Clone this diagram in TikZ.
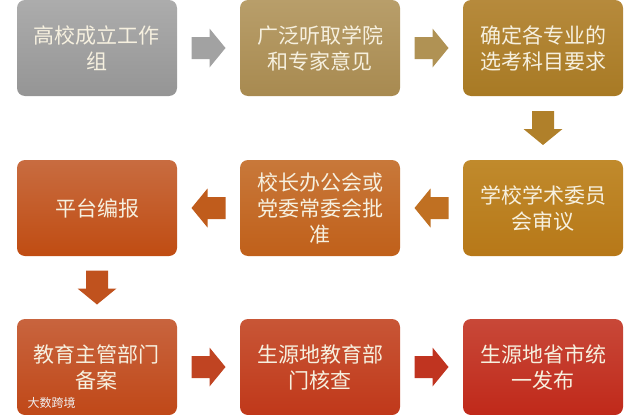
\documentclass[tikz,border=0pt]{standalone}
\usepackage{fontspec}
\newfontfamily\cjk{Noto Sans CJK SC}
\usetikzlibrary{calc}
\definecolor{txt}{HTML}{F6F0DF}
\definecolor{a1t}{HTML}{ACACAC}\definecolor{a1b}{HTML}{959595}
\definecolor{a2t}{HTML}{B89E6A}\definecolor{a2b}{HTML}{A88A50}
\definecolor{a3t}{HTML}{B68A3C}\definecolor{a3b}{HTML}{A87A24}
\definecolor{b3t}{HTML}{C08A2C}\definecolor{b3b}{HTML}{B77818}
\definecolor{b2t}{HTML}{C8783A}\definecolor{b2b}{HTML}{C0601A}
\definecolor{b1t}{HTML}{C86C40}\definecolor{b1b}{HTML}{C04C12}
\definecolor{c1t}{HTML}{C8643E}\definecolor{c1b}{HTML}{C04818}
\definecolor{c2t}{HTML}{C85636}\definecolor{c2b}{HTML}{C0381A}
\definecolor{c3t}{HTML}{C84838}\definecolor{c3b}{HTML}{C0291A}
\definecolor{ar1}{HTML}{A2A2A2}\definecolor{ar2}{HTML}{B09254}
\definecolor{ar3}{HTML}{B0802A}\definecolor{ar4}{HTML}{C07022}
\definecolor{ar5}{HTML}{C05C1C}\definecolor{ar6}{HTML}{C0521E}
\definecolor{ar7}{HTML}{C04422}\definecolor{ar8}{HTML}{C03420}
\tikzset{
  box/.style 2 args={draw=none, rounded corners=8pt, minimum width=160pt, minimum height=96pt,
    inner sep=0pt, text width=150pt, align=center, text=txt,
    font=\cjk\fontsize{21pt}{26pt}\selectfont, top color=#1, bottom color=#2},
}
\newcommand\blockarr[3]{%
  \fill[#3, shift={(#1)}, rotate=#2] (-17,-11) -- (1,-11) -- (1,-19.5) -- (17,0)
    -- (1,19.5) -- (1,11) -- (-17,11) -- cycle;}
\begin{document}
\begin{tikzpicture}[x=1pt,y=-1pt]
\useasboundingbox (0,0) rectangle (640,415);
% row 1
\node[box={a1t}{a1b}] (a1) at (97,48) {高校成立工作\\组};
\node[box={a2t}{a2b}] (a2) at (320,48) {广泛听取学院\\和专家意见};
\node[box={a3t}{a3b}] (a3) at (543,48) {确定各专业的\\选考科目要求};
% row 2
\node[box={b3t}{b3b}] (b3) at (543,208) {学校学术委员\\会审议};
\node[box={b2t}{b2b}] (b2) at (320,208) {校长办公会或\\党委常委会批\\准};
\node[box={b1t}{b1b}] (b1) at (97,208) {平台编报};
% row 3
\node[box={c1t}{c1b}] (c1) at (97,367) {教育主管部门\\备案};
\node[box={c2t}{c2b}] (c2) at (320,367) {生源地教育部\\门核查};
\node[box={c3t}{c3b}] (c3) at (543,367) {生源地省市统\\一发布};
% arrows
\coordinate (r1) at ($(a1.east)!0.5!(a2.west)$);
\coordinate (r2) at ($(a2.east)!0.5!(a3.west)$);
\coordinate (d1) at ($(a3.south)!0.5!(b3.north)$);
\coordinate (l1) at ($(b3.west)!0.5!(b2.east)$);
\coordinate (l2) at ($(b2.west)!0.5!(b1.east)$);
\coordinate (d2) at ($(b1.south)!0.5!(c1.north)$);
\coordinate (r3) at ($(c1.east)!0.5!(c2.west)$);
\coordinate (r4) at ($(c2.east)!0.5!(c3.west)$);
\blockarr{r1}{0}{ar1}
\blockarr{r2}{0}{ar2}
\blockarr{d1}{-90}{ar3}
\blockarr{l1}{180}{ar4}
\blockarr{l2}{180}{ar5}
\blockarr{d2}{-90}{ar6}
\blockarr{r3}{0}{ar7}
\blockarr{r4}{0}{ar8}
% watermark
\node[text=white!88!gray, font=\cjk\fontsize{12pt}{13pt}\selectfont, anchor=west] (wm) at (24,403) {大数跨境};
\end{tikzpicture}
\end{document}
